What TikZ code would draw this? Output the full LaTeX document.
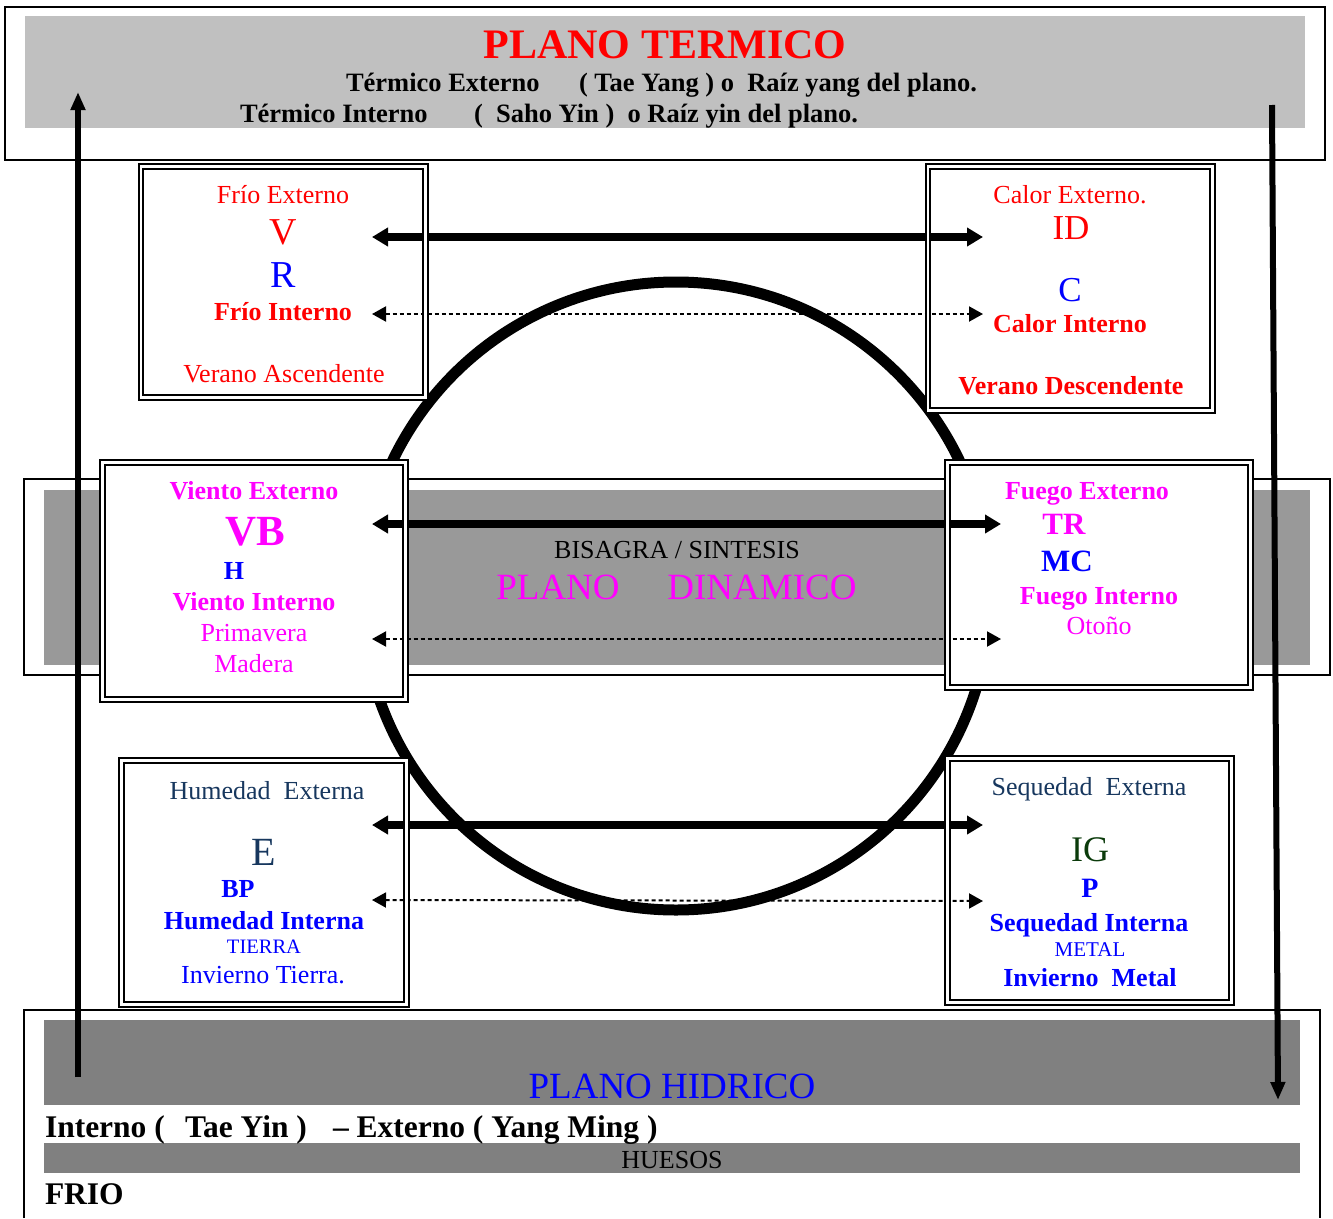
\documentclass[tikz,border=0pt]{standalone}
\usepackage{fontspec}
\setmainfont{Liberation Serif}
\usetikzlibrary{arrows.meta}
\definecolor{cred}{HTML}{FF0000}
\definecolor{cblue}{HTML}{0000FF}
\definecolor{cmag}{HTML}{FF00FF}
\definecolor{cnavy}{HTML}{17375E}
\definecolor{cgreen}{HTML}{0B3B0B}
\definecolor{gtop}{HTML}{C0C0C0}
\definecolor{gmid}{HTML}{999999}
\definecolor{gbot}{HTML}{808080}
\newcommand\fsz[1]{\fontsize{#1pt}{#1pt}\selectfont}
\begin{document}
\begin{tikzpicture}[x=1pt,y=-1pt,
  txt/.style={anchor=base, inner sep=0pt, outer sep=0pt},
  txtw/.style={anchor=base west, inner sep=0pt, outer sep=0pt},
  boxline/.style={draw=black, double=white, double distance=2.5pt, line width=1.8pt},
  panel/.style={rectangle, fill=white, inner sep=0pt, outer sep=0pt},
  thickarr/.style={line width=8pt, {Triangle[length=16pt,width=18pt]}-{Triangle[length=16pt,width=18pt]}},
  dotarr/.style={line width=2pt, dash pattern=on 4pt off 3pt, {Triangle[length=14pt,width=15pt]}-{Triangle[length=14pt,width=15pt]}},
  vertarr/.style={line width=6pt, -{Triangle[length=18pt,width=14pt]}},
  frame/.style={draw=black, line width=1.6pt}
]
\useasboundingbox (0,0) rectangle (1333,1218);
\fill[white] (0,0) rectangle (1333,1218);

% ---- top frame ----
\draw[frame, line width=2.2pt] (5,7) rectangle (1325,160);
\fill[gtop] (25,16) rectangle (1305,128);
\node[txt, text=cred, font=\fsz{42}\bfseries] (title) at (665,58) {PLANO TERMICO};
\node[txtw, font=\fsz{26.5}\bfseries] (te1) at (346,91) {Térmico Externo};
\node[txtw, font=\fsz{26.5}\bfseries] (te2) at (579,91) {( Tae Yang ) o\ \ Raíz yang del plano.};
\node[txtw, font=\fsz{26.5}\bfseries] (ti1) at (240,122) {Térmico Interno};
\node[txtw, font=\fsz{26.5}\bfseries] (ti2) at (474,122) {(\ \ Saho Yin )\ \ o Raíz yin del plano.};

% ---- middle band ----
\draw[frame, line width=1.4pt] (24,479) rectangle (1330,675);
\fill[gmid] (44,490) rectangle (1310,665);
\node[txt, font=\fsz{26}] (bis) at (677,558) {BISAGRA / SINTESIS};
\node[txt, text=cmag, font=\fsz{37}] (pd1) at (558,599) {PLANO};
\node[txt, text=cmag, font=\fsz{37}] (pd2) at (762,599) {DINAMICO};

% ---- bottom band ----
\draw[frame, line width=1.4pt] (24,1218) -- (24,1010) -- (1320,1010) -- (1320,1218);
\fill[gbot] (44,1020) rectangle (1300,1105);
\fill[gbot] (44,1143) rectangle (1300,1173);
\node[txt, text=cblue, font=\fsz{37}] (ph) at (672,1098) {PLANO HIDRICO};
\node[txtw, font=\fsz{31.5}\bfseries] (b1) at (45,1137) {Interno (};
\node[txtw, font=\fsz{31.5}\bfseries] (b2) at (185,1137) {Tae Yin )};
\node[txtw, font=\fsz{31.5}\bfseries] (b3) at (333,1137) {– Externo ( Yang Ming )};
\node[txt, font=\fsz{26}] (hue) at (672,1168) {HUESOS};
\node[txtw, font=\fsz{31.5}\bfseries] (frio) at (45,1204) {FRIO};

% ---- circle ----
\node[circle, draw=black, line width=11pt, minimum size=628pt, inner sep=0pt] (circ) at (676,596) {};

% ---- box fills ----
\node[panel, minimum width=284.5pt, minimum height=231pt] (tl) at (283.25,282) {};
\node[panel, minimum width=284.5pt, minimum height=244pt] (tr) at (1070.25,288.5) {};
\node[panel, minimum width=303pt, minimum height=237pt] (ml) at (254,581) {};
\node[panel, minimum width=303pt, minimum height=225pt] (mr) at (1099,575) {};
\node[panel, minimum width=285pt, minimum height=244pt] (bl) at (264,882.5) {};
\node[panel, minimum width=284pt, minimum height=244pt] (br) at (1089.5,880.5) {};

% ---- horizontal arrows ----
\coordinate (a1l) at (372,237);  \coordinate (a1r) at (983,237);
\coordinate (d1l) at (372,314);  \coordinate (d1r) at (983,314);
\coordinate (a2l) at (372,524);  \coordinate (a2r) at (1001,524);
\coordinate (d2l) at (372,639);  \coordinate (d2r) at (1001,639);
\coordinate (a3l) at (372,825);  \coordinate (a3r) at (983,825);
\coordinate (d3l) at (372,900);  \coordinate (d3r) at (983,901);
\draw[thickarr] (a1l) -- (a1r);
\draw[dotarr] (d1l) -- (d1r);
\draw[thickarr] (a2l) -- (a2r);
\draw[dotarr] (d2l) -- (d2r);
\draw[thickarr] (a3l) -- (a3r);
\draw[dotarr] (d3l) -- (d3r);

% ---- box borders ----
\foreach \b in {tl,tr,ml,mr,bl,br}
  \draw[boxline] (\b.north west) rectangle (\b.south east);

% ---- TL text ----
\node[txt, text=cred, font=\fsz{26}] (tl1) at (283,203) {Frío Externo};
\node[txt, text=cred, font=\fsz{38}] (tl2) at (283,244) {V};
\node[txt, text=cblue, font=\fsz{38}] (tl3) at (283,287) {R};
\node[txt, text=cred, font=\fsz{26}\bfseries] (tl4) at (283,320) {Frío Interno};
\node[txt, text=cred, font=\fsz{26}] (tl5) at (284,382) {Verano Ascendente};

% ---- TR text ----
\node[txt, text=cred, font=\fsz{26}] (tr1) at (1070,203) {Calor Externo.};
\node[txt, text=cred, font=\fsz{35}] (tr2) at (1071,239) {ID};
\node[txt, text=cblue, font=\fsz{35}] (tr3) at (1070,301) {C};
\node[txt, text=cred, font=\fsz{26}\bfseries] (tr4) at (1070,332) {Calor Interno};
\node[txt, text=cred, font=\fsz{26}\bfseries] (tr5) at (1071,394) {Verano Descendente};

% ---- ML text ----
\node[txt, text=cmag, font=\fsz{26}\bfseries] (ml1) at (254,499) {Viento Externo};
\node[txt, text=cmag, font=\fsz{43}\bfseries] (ml2) at (255,545) {VB};
\node[txt, text=cblue, font=\fsz{26}\bfseries] (ml3) at (234,579) {H};
\node[txt, text=cmag, font=\fsz{26}\bfseries] (ml4) at (254,610) {Viento Interno};
\node[txt, text=cmag, font=\fsz{26}] (ml5) at (254,641) {Primavera};
\node[txt, text=cmag, font=\fsz{26}] (ml6) at (254,672) {Madera};

% ---- MR text ----
\node[txt, text=cmag, font=\fsz{26}\bfseries] (mr1) at (1087,499) {Fuego Externo};
\node[txt, text=cmag, font=\fsz{31}\bfseries] (mr2) at (1064,534) {TR};
\node[txt, text=cblue, font=\fsz{31}\bfseries] (mr3) at (1067,571) {MC};
\node[txt, text=cmag, font=\fsz{26}\bfseries] (mr4) at (1099,604) {Fuego Interno};
\node[txt, text=cmag, font=\fsz{26}] (mr5) at (1099,634) {Otoño};

% ---- BL text ----
\node[txt, text=cnavy, font=\fsz{26}] (bl1) at (267,799) {Humedad\ \ Externa};
\node[txt, text=cnavy, font=\fsz{40}] (bl2) at (264,865) {E};
\node[txt, text=cblue, font=\fsz{26}\bfseries] (bl3) at (238,897) {BP};
\node[txt, text=cblue, font=\fsz{26}\bfseries] (bl4) at (264,929) {Humedad Interna};
\node[txt, text=cblue, font=\fsz{20.5}] (bl5) at (264,953) {TIERRA};
\node[txt, text=cblue, font=\fsz{26}] (bl6) at (263,983) {Invierno Tierra.};

% ---- BR text ----
\node[txt, text=cnavy, font=\fsz{26}] (br1) at (1089,795) {Sequedad\ \ Externa};
\node[txt, text=cgreen, font=\fsz{36}] (br2) at (1090,861) {IG};
\node[txt, text=cblue, font=\fsz{28}\bfseries] (br3) at (1090,897) {P};
\node[txt, text=cblue, font=\fsz{26}\bfseries] (br4) at (1089,931) {Sequedad Interna};
\node[txt, text=cblue, font=\fsz{21}] (br5) at (1090,956) {METAL};
\node[txt, text=cblue, font=\fsz{26}\bfseries] (br6) at (1090,986) {Invierno\ \ Metal};

% ---- vertical arrows ----
\coordinate (vl0) at (78,1077); \coordinate (vl1) at (78,92);
\coordinate (vr0) at (1272,105); \coordinate (vr1) at (1278,1100);
\draw[vertarr] (vl0) -- (vl1);
\draw[vertarr] (vr0) -- (vr1);
\end{tikzpicture}
\end{document}
